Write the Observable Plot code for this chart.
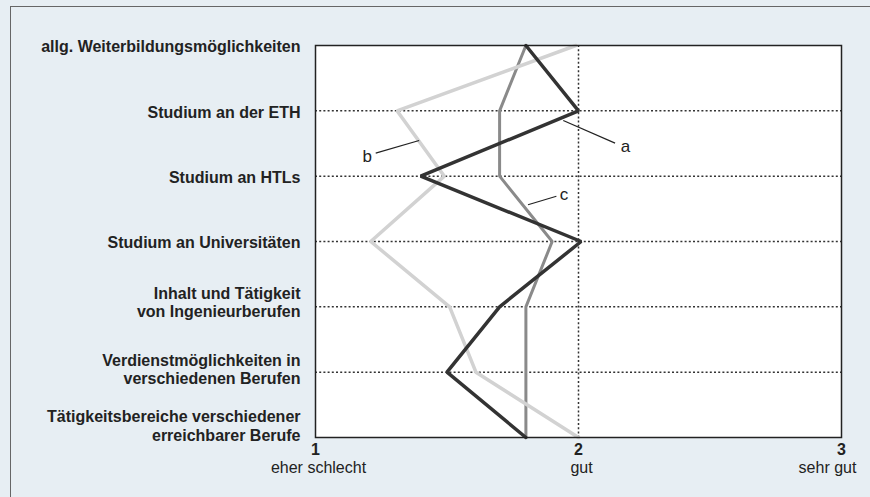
<!DOCTYPE html>
<html>
<head>
<meta charset="utf-8">
<script src="https://cdn.jsdelivr.net/npm/d3@7"></script>
<script src="https://cdn.jsdelivr.net/npm/@observablehq/plot@0.6"></script>
<style>
  html, body { margin: 0; padding: 0; background: #e7eef3; overflow: hidden; }
  #wrap { position: relative; width: 870px; height: 497px; overflow: hidden; }
  #border { position: absolute; left: 10px; top: 6px; width: 1200px; height: 900px;
            border-left: 1.5px solid #666; border-top: 1.5px solid #666; pointer-events: none; }
</style>
</head>
<body>
<div id="wrap"><div id="border"></div><div id="chart"></div></div>
<script>
const catLabels = [
  "allg. Weiterbildungsmöglichkeiten",
  "Studium an der ETH",
  "Studium an HTLs",
  "Studium an Universitäten",
  "Inhalt und Tätigkeit\nvon Ingenieurberufen",
  "Verdienstmöglichkeiten in\nverschiedenen Berufen",
  "Tätigkeitsbereiche verschiedener\nerreichbarer Berufe"
];
const seriesA = [1.80, 2.00, 1.40, 2.01, 1.70, 1.50, 1.80];
const seriesB = [1.99, 1.31, 1.49, 1.21, 1.51, 1.61, 2.00];
const seriesC = [1.80, 1.70, 1.70, 1.90, 1.80, 1.80, 1.80];
const xTicks = [1, 2, 3];
const xTickLabels = ["eher schlecht", "gut", "sehr gut"];
const seriesNames = ["a", "b", "c"];
// annotation leader lines (data units: x value, y category index)
const leaderX1 = [1.942, 1.229, 1.808];
const leaderY1 = [1.148, 1.648, 2.438];
const leaderX2 = [2.139, 1.394, 1.916];
const leaderY2 = [1.495, 1.454, 2.307];
const annotX = [2.179, 1.197, 1.945];
const annotY = [1.541, 1.699, 2.281];

const toRows = (vals) => vals.map((v, i) => ({i, v}));
const rowsA = toRows(seriesA), rowsB = toRows(seriesB), rowsC = toRows(seriesC);
const leaders = seriesNames.map((n, k) => ({x1: leaderX1[k], y1: leaderY1[k], x2: leaderX2[k], y2: leaderY2[k]}));
const annots = seriesNames.map((n, k) => ({x: annotX[k], y: annotY[k], n}));
const idx = catLabels.map((_, i) => i);
const font = "'Liberation Sans', Arial, Helvetica, sans-serif";
const labelStyle = {tickFormat: i => catLabels[i], tickSize: 0, tickPadding: 15,
  fontSize: 16, fontWeight: "bold", lineHeight: 1.15, label: null};

const chart = Plot.plot({
  width: 870,
  height: 497,
  marginLeft: 315,
  marginRight: 29,
  marginTop: 45,
  marginBottom: 60,
  style: {background: "transparent", fontFamily: font, color: "#222"},
  x: {domain: [1, 3], axis: null},
  y: {domain: [0, 6], reverse: true, axis: null},
  marks: [
    Plot.frame({fill: "white", stroke: null}),
    Plot.ruleY(idx.slice(1, -1), {stroke: "#333", strokeWidth: 1.5, strokeDasharray: "2,2.2"}),
    Plot.ruleX([2], {stroke: "#333", strokeWidth: 1.5, strokeDasharray: "2,2.2"}),
    Plot.line(rowsC, {x: "v", y: "i", stroke: "#8a8a8a", strokeWidth: 3, strokeLinejoin: "miter"}),
    Plot.line(rowsB, {x: "v", y: "i", stroke: "#d2d2d2", strokeWidth: 3.5, strokeLinejoin: "miter"}),
    Plot.line(rowsA, {x: "v", y: "i", stroke: "#333", strokeWidth: 3.5, strokeLinejoin: "miter"}),
    Plot.link(leaders, {x1: "x1", y1: "y1", x2: "x2", y2: "y2", stroke: "#222", strokeWidth: 1.2}),
    Plot.text(annots, {x: "x", y: "y", text: "n", fontSize: 17, fill: "#222"}),
    Plot.frame({stroke: "#222", strokeWidth: 1.5}),
    Plot.axisY({...labelStyle, ticks: idx.slice(0, 4), dy: 1}),
    Plot.axisY({...labelStyle, ticks: [4], dy: -5}),
    Plot.axisY({...labelStyle, ticks: [5], dy: -3}),
    Plot.axisY({...labelStyle, ticks: [6], dy: -12}),
    Plot.axisX({ticks: xTicks, tickFormat: d => String(d), tickSize: 0, tickPadding: 6,
      fontSize: 16, fontWeight: "bold", label: null}),
    Plot.axisX({ticks: xTicks.slice(0, 2), tickFormat: d => xTickLabels[d - 1], tickSize: 0, tickPadding: 24,
      fontSize: 16, label: null, dx: 3}),
    Plot.axisX({ticks: xTicks.slice(2), tickFormat: d => xTickLabels[d - 1], tickSize: 0, tickPadding: 24,
      fontSize: 16, label: null, dx: -14})
  ]
});
document.getElementById("chart").appendChild(chart);
</script>
</body>
</html>
